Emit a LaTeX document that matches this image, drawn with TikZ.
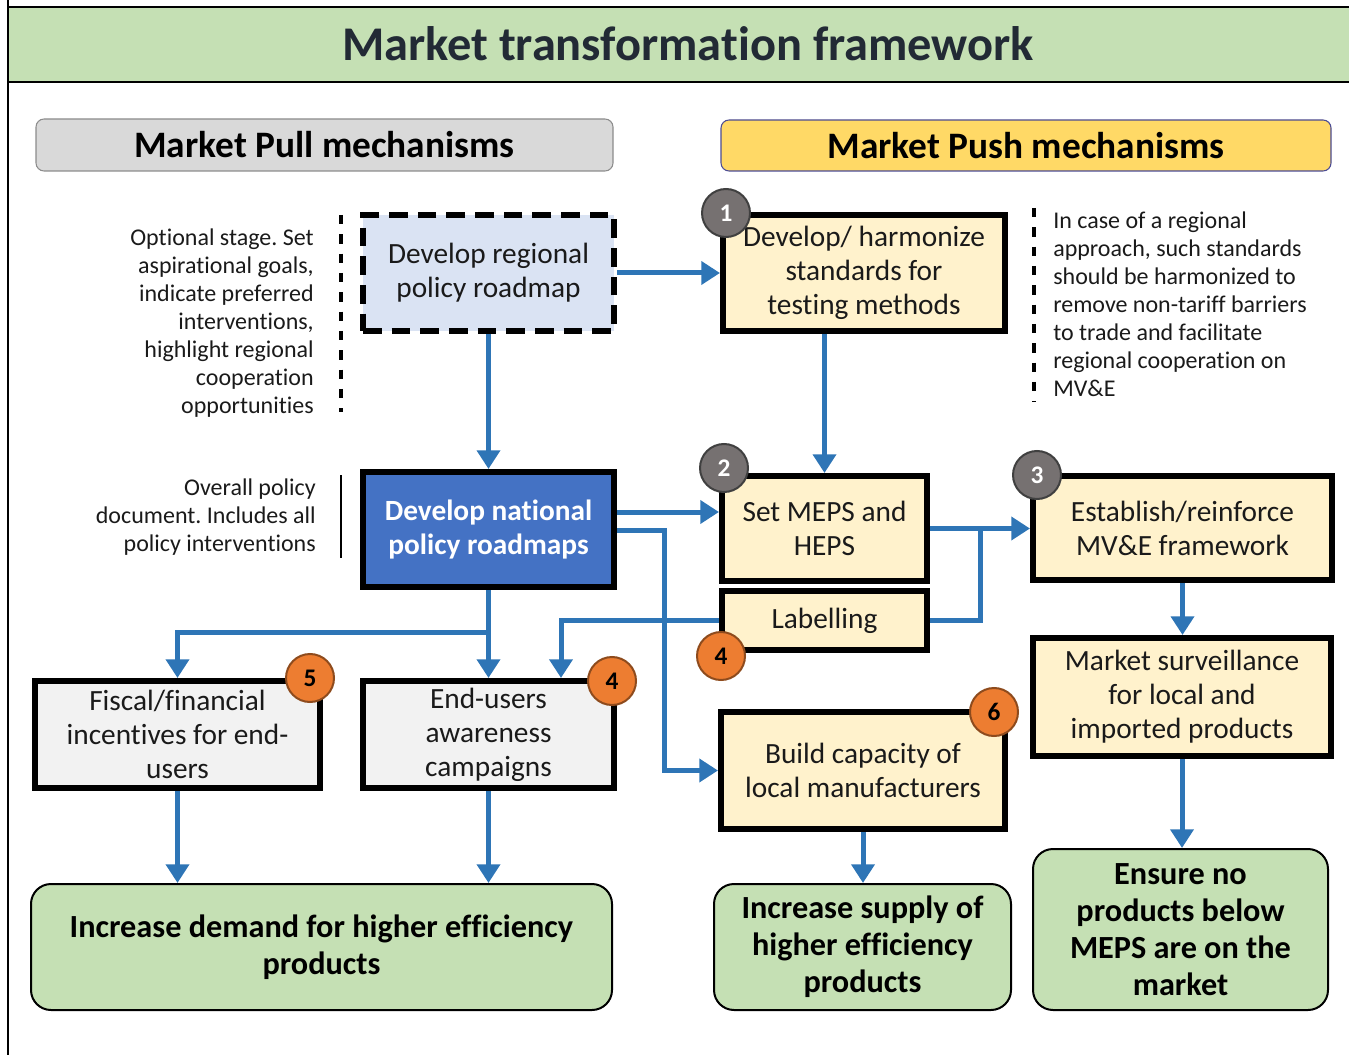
\documentclass[tikz,border=0pt]{standalone}
\usepackage{fontspec}
\setmainfont{Carlito}[Ligatures=CommonOff]
\frenchspacing
\usetikzlibrary{arrows.meta,calc}
\definecolor{arrowblue}{HTML}{2E75B6}
\definecolor{ylw}{HTML}{FFF2CC}
\definecolor{lblue}{HTML}{DAE3F3}
\definecolor{natblue}{HTML}{4472C4}
\definecolor{lgray}{HTML}{F2F2F2}
\definecolor{lgreen}{HTML}{C5E0B4}
\definecolor{hgray}{HTML}{D9D9D9}
\definecolor{hylw}{HTML}{FFD966}
\definecolor{titlec}{HTML}{222A35}
\definecolor{bgray}{HTML}{767171}
\definecolor{borange}{HTML}{ED7D31}
\definecolor{txt}{HTML}{1A1A1A}
\newcommand\bx[7]{\node[#6, minimum width={(#4-#2)*0.75pt}, minimum height={(#5-#3)*0.75pt}] (#1) at ({(#2+#4)/2},{(#3+#5)/2}) {#7};}
\tikzset{
  x=0.75pt, y=-0.75pt,
  boxtxt/.style={font=\fontsize{22pt}{25.5pt}\selectfont, text=txt, align=center, inner sep=0pt},
  ybox/.style={boxtxt, draw=black, line width=4.5pt, fill=ylw},
  gbox/.style={boxtxt, draw=black, line width=4.5pt, fill=lgray},
  regbox/.style={boxtxt, draw=black, line width=4.5pt, fill=lblue, dash pattern=on 14pt off 7.5pt},
  natbox/.style={draw=black, line width=4.5pt, fill=natblue, text=white, align=center, inner sep=0pt, font=\bfseries\fontsize{22pt}{25.5pt}\selectfont},
  outbox/.style={draw=black, line width=1.5pt, fill=lgreen, rounded corners=15pt, align=center, inner sep=0pt, font=\bfseries\fontsize{24.2pt}{27.8pt}\selectfont},
  hdr/.style={line width=0.8pt, rounded corners=6pt, inner sep=0pt, font=\bfseries\fontsize{28pt}{32pt}\selectfont},
  note/.style={font=\fontsize{18pt}{21pt}\selectfont, text=txt, inner sep=0pt},
  flow/.style={draw=arrowblue, line width=3.75pt, -{Triangle[width=17pt,length=14pt]}},
  plain/.style={draw=arrowblue, line width=3.75pt},
  badge/.style={circle, minimum size=36pt, inner sep=0pt, line width=1.5pt, text=white, font=\bfseries\fontsize{19pt}{20pt}\selectfont},
  gbadge/.style={badge, fill=bgray, draw=black!75},
  obadge/.style={badge, fill=borange, draw=borange!60!black, text=black},
}
\begin{document}
\begin{tikzpicture}
\useasboundingbox (0,0) rectangle (1349,1055);
% frame and title band
\draw[line width=1.5pt] (8,0) -- (8,1060);
\bx{titleband}{8}{7}{1370}{82}{draw=black, line width=1.8pt, fill=lgreen}{}
\node[font=\bfseries\fontsize{36.3pt}{40pt}\selectfont, text=titlec, inner sep=0pt] (title) at (688,44) {Market transformation framework};
% headers
\bx{hpull}{36}{119}{613}{171}{hdr, draw=black!45, fill=hgray}{Market Pull mechanisms}
\bx{hpush}{721}{120}{1331}{171}{hdr, draw=black!30!blue!40!gray, fill=hylw}{Market Push mechanisms}
% boxes
\bx{reg}{363}{215}{614}{331}{regbox}{Develop regional\\policy roadmap}
\bx{b1}{723}{215}{1005}{331}{ybox}{Develop/ harmonize\\standards for\\testing methods}
\bx{nat}{363}{472}{614}{587}{natbox}{Develop national\\policy roadmaps}
\bx{b2}{722}{476}{927}{581}{ybox}{Set MEPS and\\HEPS}
\bx{lab}{722}{591}{927}{650}{ybox}{Labelling}
\bx{b3}{1033}{476}{1332}{580}{ybox}{Establish/reinforce\\MV\&E framework}
\bx{ms}{1033}{638}{1331}{756}{ybox}{Market surveillance\\for local and\\imported products}
\bx{bc}{721}{712}{1005}{829}{ybox}{Build capacity of\\local manufacturers}
\bx{fis}{35}{681}{320}{788}{gbox}{Fiscal/financial\\incentives for end-\\users}
\bx{eu}{363}{681}{614}{788}{gbox}{End-users\\awareness\\campaigns}
\bx{o1}{31}{884}{612}{1010}{outbox}{Increase demand for higher efficiency\\products}
\bx{o2}{714}{884}{1011}{1010}{outbox}{Increase supply of\\higher efficiency\\products}
\bx{o3}{1033}{849}{1328}{1010}{outbox}{Ensure no\\products below\\MEPS are on the\\market}
% notes
\node[note, align=right, anchor=east] (n1) at (314,323) {Optional stage. Set\\aspirational goals,\\indicate preferred\\interventions,\\highlight regional\\cooperation\\opportunities};
\draw[line width=2.6pt, dash pattern=on 7pt off 7.5pt] (341,215) -- (341,412);
\node[note, align=right, anchor=east] (n2) at (316,517) {Overall policy\\document. Includes all\\policy interventions};
\draw[line width=2.2pt] (341,475) -- (341,558);
\node[note, align=left, anchor=west] (n3) at (1053,304) {In case of a regional\\approach, such standards\\should be harmonized to\\remove non-tariff barriers\\to trade and facilitate\\regional cooperation on\\MV\&E};
\draw[line width=2.6pt, dash pattern=on 7pt off 7.5pt] (1034,208) -- (1034,402);
% connectors
\draw[flow] (reg.east) -- (b1.west);
\draw[flow] (reg.south) -- (nat.north);
\draw[flow] (b1.south -| b2.north) -- (b2.north);
\draw[flow] (nat.east |- 0,512) -- (b2.west |- 0,512);
\draw[flow] (nat.east |- 0,530) -- (664,530) |- (bc.west);
\draw[flow] (b2.east) -- (b3.west |- b2.east);
\draw[plain] (lab.east) -| (980,528);
\draw[flow] (lab.west) -| (eu.north -| 561,0);
\draw[flow] (nat.south) -- (eu.north);
\draw[flow] (nat.south |- 0,632) -| (fis.north);
\draw[flow] (b3.south) -- (b3.south |- ms.north);
\draw[flow] (ms.south) -- (ms.south |- o3.north);
\draw[flow] (fis.south) -- (fis.south |- o1.north);
\draw[flow] (eu.south) -- (eu.south |- o1.north);
\draw[flow] (bc.south) -- (bc.south |- o2.north);
% badges
\node[gbadge] (k1) at (726,213) {1};
\node[gbadge] (k2) at (724,468) {2};
\node[gbadge] (k3) at (1037,475) {3};
\node[obadge] (k4a) at (721,656) {4};
\node[obadge] (k4b) at (612,681) {4};
\node[obadge] (k5) at (310,678) {5};
\node[obadge] (k6) at (994,712) {6};
\end{tikzpicture}
\end{document}
